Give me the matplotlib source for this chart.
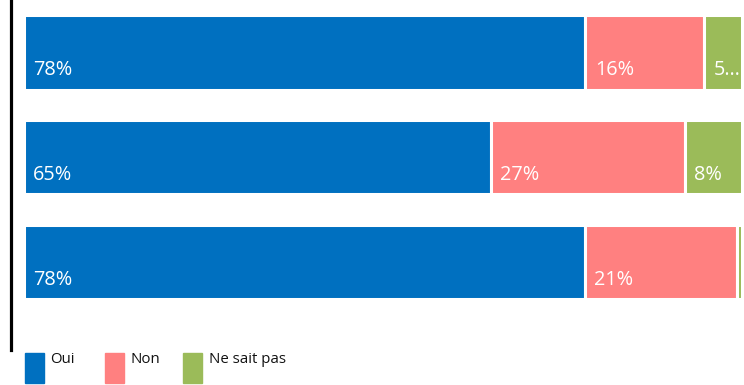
import numpy as np
import matplotlib.pyplot as plt
from matplotlib.patches import Rectangle

series = ["Oui", "Non", "Ne sait pas"]
colors = ["#0070C0", "#FF8080", "#9BBB59"]
rows = [0, 1, 2]
oui = [78.2, 65.0, 78.1]
non = [16.5, 27.0, 21.2]
nsp = [5.3, 8.0, 0.7]


def label_for(v):
    txt = f"{round(v)}%"
    if v < 2:
        return ""
    if v < 6:
        return txt[0] + "\u2026"
    return txt


def main():
    plt.rcParams['font.family'] = ['Open Sans', 'DejaVu Sans']
    fig = plt.figure(figsize=(7.44, 3.85), dpi=100)
    W, H = 744, 385
    ax = fig.add_axes([24 / W, 35 / H, 718 / W, 350 / H])

    data = np.array([oui, non, nsp])
    y = np.array(rows)
    left = np.zeros(len(rows))
    for k, vals in enumerate(data):
        ax.barh(y, vals, left=left, height=0.71, color=colors[k],
                edgecolor="white", linewidth=2.2)
        for yi, l, v in zip(y, left, vals):
            t = label_for(v)
            if t:
                ax.text(l + 1.3, yi + 0.215, t, color="white", fontsize=14.3,
                        ha="left", va="baseline")
        left += vals

    ax.set_xlim(0, 100)
    ax.set_ylim(2.84, -0.5)
    ax.set_xticks([])
    ax.set_yticks([])
    for s in ["top", "right", "bottom"]:
        ax.spines[s].set_visible(False)
    # left rule sits ~14px to the left of the bars
    ax.spines["left"].set_position(("outward", 9.5))
    ax.spines["left"].set_linewidth(2.3)
    ax.spines["left"].set_color("black")

    # legend
    mx = [25, 105, 183]
    tx = [50, 131, 209]
    for k in range(3):
        fig.patches.append(Rectangle((mx[k] / W, (H - 383) / H), 19 / W, 30 / H,
                                     transform=fig.transFigure, color=colors[k]))
        fig.text(tx[k] / W, (H - 363) / H, series[k], fontsize=10.8,
                 ha="left", va="baseline", color="#111111")

    fig.savefig("out.png", dpi=100)


if __name__ == "__main__":
    main()
